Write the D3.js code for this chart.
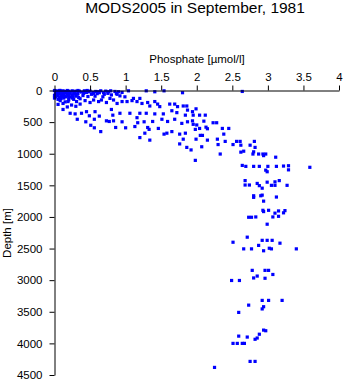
<!DOCTYPE html>
<html><head><meta charset="utf-8">
<script src="https://cdn.jsdelivr.net/npm/d3@7"></script>
<style>body{margin:0;background:#fff}svg{display:block}text{font-family:"Liberation Sans",Arial,sans-serif}</style>
</head><body>
<script>
const title = "MODS2005 in September, 1981";
const xLabel = "Phosphate [\u00b5mol/l]";
const yLabel = "Depth [m]";
const xTicks = [0,0.5,1,1.5,2,2.5,3,3.5,4];
const yTicks = [0,500,1000,1500,2000,2500,3000,3500,4000,4500];
// [phosphate, depth]
const surfacePts = [[0.02,5],[0.05,10],[0.08,0],[0.1,20],[0.12,5],[0.15,15],[0.18,0],[0.2,10],[0.22,25],[0.25,5],[0.28,20],[0.3,10],[0.02,40],[0.05,60],[0.08,30],[0.1,50],[0.12,75],[0.15,40],[0.18,60],[0.2,80],[0.22,45],[0.25,70],[0.28,50],[0.3,90],[0.02,100],[0.04,80],[0.07,110],[0.1,100],[0.13,120],[0.16,100],[0.2,110],[0.03,20],[0.06,50],[0.09,70],[0.14,90],[0.17,30],[0.23,100],[0.27,35],[0.01,60],[0.32,60],[0.0,0],[0.04,30],[0.0,80],[0.11,35],[0.19,40],[0.26,100],[0.07,0],[0.13,55],[0.0,120],
[0.35,10],[0.38,25],[0.42,5],[0.45,30],[0.5,10],[0.52,60],[0.58,15],[0.6,50],[0.65,5],[0.7,60],[0.72,10],[0.75,45],[0.85,15],[0.88,60],[0.95,30],[0.4,80],[0.47,95],[0.57,90],[0.68,100],[0.36,130],[0.27,140],[0.2,150],[0.05,140],[0.15,180],[0.3,250],[0.18,260],[0.05,220],[0.33,0],[0.46,0],[0.54,30],[0.63,35],[0.79,5],[0.9,20],[0.25,120],[0.09,130],[0.34,110]];
const upperPts = [[0.33,45],[0.41,45],[0.48,20],[0.55,45],[0.62,20],[0.69,35],[0.76,20],[0.80,70],[0.87,45],[0.92,85],[0.99,100],[1.04,5],[1.11,125],[1.20,125],[1.29,5],[1.41,20],[1.54,5],[1.80,35],[2.64,15],
[0.08,160],[0.12,205],[0.19,175],[0.24,230],[0.31,175],[0.36,215],[0.43,160],[0.50,190],[0.55,150],[0.62,175],[0.66,150],[0.73,190],[0.78,125],[0.83,150],[0.88,205],[0.95,175],[1.02,175],[1.09,160],[1.16,175],[1.23,205],[1.31,190],[1.41,175],[1.45,215],[1.34,245],[1.48,255],[1.62,215],[1.69,215],[1.73,255],[1.81,245],[1.86,245],
[0.12,300],[0.22,360],[0.29,370],[0.38,360],[0.45,335],[0.57,335],[0.63,405],[0.80,300],[0.82,390],[0.92,360],[1.06,360],[1.20,360],[1.29,360],[1.41,370],[1.53,370],[1.65,320],[1.72,350],[1.84,390],[1.87,310],
[0.32,455],[0.44,495],[0.49,400],[0.56,455],[0.73,480],[0.77,490],[0.83,480],[0.95,495],[1.16,430],[1.17,510],[1.26,495],[1.38,490],[1.51,455],[1.59,490],[1.69,455],[1.79,520],[1.87,495],
[0.51,550],[0.56,590],[0.65,650],[0.86,585],[1.00,590],[1.13,570],[1.31,585],[1.33,615],[1.46,600],[1.27,675],[1.20,745],[1.34,785],[1.54,690],[1.58,675],[1.65,650],[1.76,690],[1.84,675],[1.76,845],[1.81,770],[1.86,900]];
const midPts = [[1.99,290],[1.95,390],[1.94,335],[2.04,390],[2.12,390],[1.94,480],[1.95,535],[2.00,545],[2.10,485],[2.23,510],[2.28,510],[1.98,615],[2.04,600],[2.13,580],[2.15,605],[2.36,600],[2.45,600],[2.05,710],[2.08,710],[2.38,690],[1.99,770],[2.15,785],[2.29,770],[2.40,805],[2.56,805],[2.61,805],[2.81,805],[2.30,855],[2.51,855],[2.62,865],[2.75,865],[2.82,900],[2.07,890],[1.92,940],[2.33,1005],[2.62,975],[2.66,960],[2.80,970],[2.79,1005],[2.87,1005],[2.93,1005],[2.97,1005],[2.94,1030],[3.11,1055],[1.98,1105]];
const deepPts = [[2.64,1185],[2.69,1200],[2.80,1200],[2.88,1200],[3.00,1200],[3.12,1200],[3.22,1195],[3.29,1190],[3.29,1255],[3.59,1215],[2.97,1260],[2.99,1285],
[2.68,1425],[2.68,1495],[2.74,1495],[2.85,1470],[2.88,1505],[2.92,1545],[2.99,1450],[3.05,1500],[3.10,1445],[3.10,1500],[3.16,1425],[3.27,1500],
[2.80,1665],[2.80,1690],[2.90,1665],[2.92,1655],[2.94,1750],[3.12,1685],
[2.93,1895],[2.94,1915],[3.01,1895],[3.10,1940],[3.15,1905],[3.22,1935],[3.24,1900],[3.15,1990],[3.07,2000],[2.73,2005],[2.77,2005],[2.83,2000],[2.99,2115],
[2.71,2320],[2.51,2400],[2.92,2370],[2.99,2370],[3.06,2370],[3.17,2415],[2.87,2450],[2.66,2505],[2.77,2505],[2.94,2535],[3.02,2495],[3.05,2505],[3.40,2505],
[2.78,2845],[2.96,2845],[3.01,2845],[3.07,2910],[2.85,2935],[2.80,2965],[2.96,2970],[2.49,3005],[2.60,3005],
[2.92,3320],[3.01,3320],[3.20,3320],[2.73,3395],[2.94,3420],[2.92,3455],[2.59,3510],
[2.94,3790],[2.97,3800],[2.88,3855],[2.59,3885],[2.71,3900],[2.85,3915],[2.82,3935],[2.51,4000],[2.57,4000],[2.64,4000],[2.67,4000],
[2.75,4285],[2.82,4285],[2.25,4380]];

const W = 345, H = 384;
const svg = d3.select("body").append("svg").attr("width", W).attr("height", H);
const x = d3.scaleLinear().domain([0,4]).range([54.5,339]);
const y = d3.scaleLinear().domain([0,4500]).range([90.5,375]);

const pts = surfacePts.concat(upperPts, midPts, deepPts);
svg.append("g").selectAll("rect").data(pts).join("rect")
  .attr("x", d => x(d[0]) - 1.6).attr("y", d => y(d[1]) - 1.6)
  .attr("width", 3.2).attr("height", 3.2).attr("fill", "#0000ff");

const xa = svg.append("g").attr("transform", "translate(0,90.5)")
  .call(d3.axisTop(x).tickValues(xTicks).tickSize(5).tickSizeOuter(0).tickFormat(d3.format("")));
const ya = svg.append("g").attr("transform", "translate(54.5,0)")
  .call(d3.axisLeft(y).tickValues(yTicks).tickSize(5).tickSizeOuter(0).tickFormat(d3.format("")));
[xa, ya].forEach(a => {
  a.select(".domain").attr("stroke", "#000");
  a.selectAll(".tick line").attr("stroke", "#000");
  a.selectAll(".tick text").attr("fill", "#000").style("font-size", "11.5px").style("font-family", '"Liberation Sans",Arial,sans-serif');
});
xa.selectAll(".tick text").attr("dy", 0).attr("y", -10);
ya.selectAll(".tick text").attr("x", -12);

svg.append("text").attr("x", 195).attr("y", 13).attr("text-anchor", "middle")
  .style("font-size", "15.5px").text(title);
svg.append("text").attr("x", 197).attr("y", 63).attr("text-anchor", "middle")
  .style("font-size", "11.5px").text(xLabel);
svg.append("text").attr("transform", "translate(11,233) rotate(-90)").attr("text-anchor", "middle")
  .style("font-size", "11.5px").text(yLabel);
</script>
</body></html>
